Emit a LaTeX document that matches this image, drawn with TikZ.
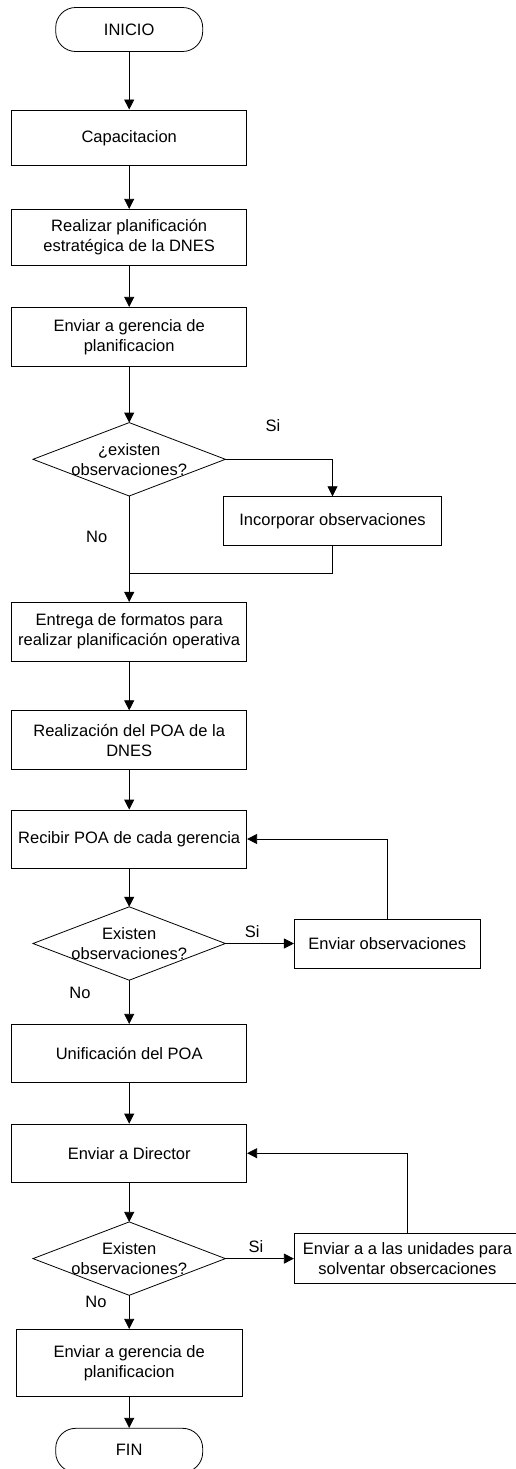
\documentclass[tikz,border=0pt]{standalone}
\usepackage{fontspec}
\setmainfont{Liberation Sans}
\usetikzlibrary{arrows.meta}

\tikzset{
  proc/.style={draw, line width=0.8pt, minimum width=235pt, align=center, inner sep=0pt},
  term/.style={draw, line width=0.8pt, rounded corners=20pt, minimum width=147pt, minimum height=44pt},
  decision/.style={minimum width=192pt, minimum height=73pt, inner sep=0pt, align=center},
  flow/.style={line width=0.8pt, -{Triangle[length=10pt,width=10pt]}},
  link/.style={line width=0.8pt}
}

\begin{document}
\begin{tikzpicture}[x=1pt, y=1pt, font=\fontsize{16.5}{20}\selectfont]
        \useasboundingbox (0,0) rectangle (516,-1469);
        \clip (0,0) rectangle (516,-1469);
        \node[term] (inicio) at (129.2,-29.5) {INICIO};
        \node[proc, minimum height=55.7pt] (capac) at (129.2,-137.8) {Capacitacion};
        \node[proc, minimum height=56pt] (plan) at (129.2,-237.3) {Realizar planificación\\estratégica de la DNES};
        \node[proc, minimum height=59pt] (gerencia) at (129.2,-336.8) {Enviar a gerencia de\\planificacion};
        \node[decision] (obs1) at (129.2,-459.3) {¿existen\\observaciones?};
        \node[proc, minimum width=218.4pt, minimum height=49pt] (incorp) at (332.5,-521.2) {Incorporar observaciones};
        \coordinate (join1) at (129.2,-573.3);
        \node[proc, minimum height=58.7pt] (formatos) at (129.2,-631.7) {Entrega de formatos para\\realizar planificación operativa};
        \node[proc, minimum height=58.6pt] (poa) at (129.2,-740) {Realización del POA de la\\DNES};
        \node[proc, minimum height=58pt] (recibir) at (129.2,-839) {Recibir POA de cada gerencia};
        \node[decision] (obs2) at (129.2,-943.5) {Existen\\observaciones?};
        \node[proc, minimum width=185.7pt, minimum height=49pt] (envobs) at (387.2,-943.5) {Enviar observaciones};
        \node[proc, minimum height=58.4pt] (unif) at (129.2,-1053.5) {Unificación del POA};
        \node[proc, minimum height=58.3pt] (director) at (129.2,-1153.2) {Enviar a Director};
        \node[decision] (obs3) at (129.2,-1258.6) {Existen\\observaciones?};
        \node[proc, minimum width=226.2pt, minimum height=50pt] (unidades) at (407.4,-1258.6) {Enviar a a las unidades para\\solventar obsercaciones};
        \node[proc, minimum width=226.6pt, minimum height=67.4pt] (final) at (129.2,-1363) {Enviar a gerencia de\\planificacion};
        \node[term] (fin) at (129.2,-1450.3) {FIN};

        \draw[link] (obs1.north) -- (obs1.east) -- (obs1.south) -- (obs1.west) -- cycle;
        \draw[link] (obs2.north) -- (obs2.east) -- (obs2.south) -- (obs2.west) -- cycle;
        \draw[link] (obs3.north) -- (obs3.east) -- (obs3.south) -- (obs3.west) -- cycle;

        \draw[flow] (inicio) -- (capac);
        \draw[flow] (capac) -- (plan);
        \draw[flow] (plan) -- (gerencia);
        \draw[flow] (gerencia) -- (obs1);
        \draw[flow] (obs1.east) -| (incorp.north);
        \draw[link] (incorp.south) |- (join1);
        \draw[flow] (obs1.south) -- (formatos);
        \draw[flow] (formatos) -- (poa);
        \draw[flow] (poa) -- (recibir);
        \draw[flow] (recibir) -- (obs2);
        \draw[flow] (obs2.east) -- (envobs);
        \draw[flow] (envobs.north) |- (recibir.east);
        \draw[flow] (obs2.south) -- (unif);
        \draw[flow] (unif) -- (director);
        \draw[flow] (director) -- (obs3);
        \draw[flow] (obs3.east) -- (unidades);
        \draw[flow] (unidades.north) |- (director.east);
        \draw[flow] (obs3.south) -- (final);
        \draw[flow] (final) -- (fin);

        \node (si1) at (273,-426) {Si};
        \node (no1) at (96.7,-536.7) {No};
        \node (si2) at (252.3,-932) {Si};
        \node (no2) at (80,-992.7) {No};
        \node (si3) at (256,-1246.7) {Si};
        \node (no3) at (96,-1302.3) {No};
\end{tikzpicture}
\end{document}
